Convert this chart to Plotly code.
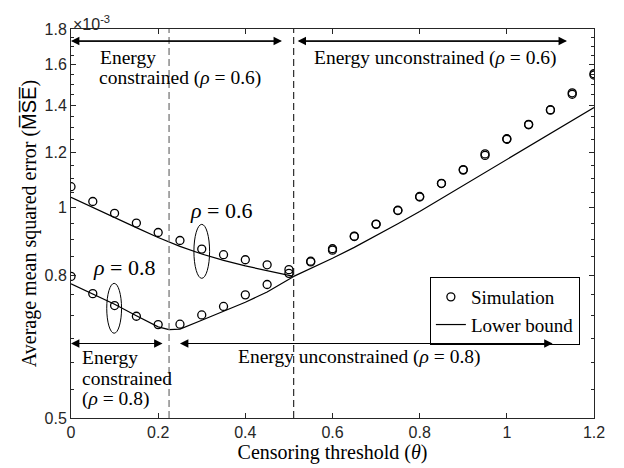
import numpy as np
import plotly.graph_objects as go

# ---------------- data (MSE in units of 1e-3) ----------------
theta_con = [0, 0.05, 0.1, 0.15, 0.2, 0.25, 0.3, 0.35, 0.4, 0.45, 0.5]
sim_rho06_con = [1.071, 1.020, 0.981, 0.950, 0.921, 0.897, 0.872, 0.856, 0.842, 0.828, 0.815]
sim_rho08_con = [0.797, 0.753, 0.724, 0.699, 0.680, 0.681, 0.702, 0.722, 0.750, 0.776, 0.805]

theta_unc = [0.55, 0.6, 0.65, 0.7, 0.75, 0.8, 0.85, 0.9, 0.95, 1.0, 1.05, 1.1, 1.15, 1.2]
sim_rho06_unc = [0.838, 0.873, 0.910, 0.947, 0.991, 1.037, 1.083, 1.133, 1.193, 1.254, 1.315, 1.380, 1.459, 1.554]
sim_rho08_unc = [0.836, 0.869, 0.909, 0.946, 0.990, 1.035, 1.082, 1.131, 1.187, 1.252, 1.313, 1.378, 1.452, 1.547]

theta_lb06 = [0, 0.05, 0.1, 0.15, 0.2, 0.25, 0.3, 0.35, 0.4, 0.45, 0.5, 0.511]
lb_rho06 = [1.034, 1.000, 0.966, 0.936, 0.906, 0.880, 0.858, 0.840, 0.825, 0.812, 0.800, 0.797]

theta_lb08 = [0, 0.05, 0.1, 0.15, 0.2, 0.225, 0.25, 0.3, 0.35, 0.4, 0.45, 0.511]
lb_rho08 = [0.778, 0.752, 0.727, 0.700, 0.675, 0.669, 0.670, 0.690, 0.710, 0.732, 0.757, 0.797]

theta_lbu = [0.511, 0.55, 0.6, 0.65, 0.7, 0.75, 0.8, 0.85, 0.9, 0.95, 1.0, 1.05, 1.1, 1.15, 1.2]
lb_unc = [0.797, 0.818, 0.846, 0.877, 0.911, 0.948, 0.987, 1.030, 1.075, 1.122, 1.172, 1.224, 1.276, 1.332, 1.390]

theta_switch_08 = 0.225
theta_switch_06 = 0.511

xtick_vals = [0, 0.2, 0.4, 0.6, 0.8, 1.0, 1.2]
xtick_text = ["0", "0.2", "0.4", "0.6", "0.8", "1", "1.2"]
ytick_vals = [0.5, 0.8, 1.0, 1.2, 1.4, 1.6, 1.8]
ytick_text = ["0.5", "0.8", "1", "1.2", "1.4", "1.6", "1.8"]
yminor_vals = [round(0.5 + 0.05 * i, 2) for i in range(27)]

SERIF = "Liberation Serif"
SANS = "Liberation Sans"
AX = "#262626"
L = np.log10

fig = go.Figure()

mk = dict(symbol="circle-open", size=8, color="black", line=dict(width=1.3, color="black"))
sims = [(theta_con, sim_rho06_con), (theta_con, sim_rho08_con),
        (theta_unc, sim_rho06_unc), (theta_unc, sim_rho08_unc)]
for i, (tx, ty) in enumerate(sims):
    fig.add_trace(go.Scatter(x=tx, y=ty, mode="markers", marker=mk, name="Simulation",
                             legendgroup="sim", showlegend=(i == 0)))
lbs = [(theta_lb06, lb_rho06), (theta_lb08, lb_rho08), (theta_lbu, lb_unc)]
for i, (tx, ty) in enumerate(lbs):
    fig.add_trace(go.Scatter(x=tx, y=ty, mode="lines", line=dict(color="black", width=1.2),
                             name="Lower bound", legendgroup="lb", showlegend=(i == 0)))

# vertical dashed lines
fig.add_shape(type="line", x0=theta_switch_08, x1=theta_switch_08, y0=0, y1=1, xref="x", yref="paper",
              line=dict(color="#7a7a7a", width=1.3, dash="7px,4px"))
fig.add_shape(type="line", x0=theta_switch_06, x1=theta_switch_06, y0=0, y1=1, xref="x", yref="paper",
              line=dict(color="black", width=1, dash="7px,4px"))

# ellipses
fig.add_shape(type="circle", x0=0.282, x1=0.318, y0=0.792, y1=0.946, xref="x", yref="y",
              line=dict(color="black", width=1))
fig.add_shape(type="circle", x0=0.082, x1=0.116, y0=0.661, y1=0.779, xref="x", yref="y",
              line=dict(color="black", width=1))

anns = []
def darrow(xa, xb, yv):
    for (h, t) in [(xa, xb), (xb, xa)]:
        anns.append(dict(x=h, y=L(yv), ax=t, ay=L(yv), xref="x", yref="y", axref="x", ayref="y",
                         text="", showarrow=True, arrowhead=2, arrowsize=1.4, arrowwidth=1.2,
                         arrowcolor="black", standoff=0, startstandoff=0))

darrow(0.0, 0.484, 1.73)
darrow(0.52, 1.138, 1.73)
darrow(0.0, 0.21, 0.639)
darrow(0.25, 1.105, 0.639)

def txt(x, yv, s, size=19.5):
    anns.append(dict(x=x, y=L(yv), xref="x", yref="y", xanchor="left", yanchor="middle",
                     showarrow=False, font=dict(family=SERIF, size=size, color="black"), text=s))

txt(0.062, 1.638, "Energy")
txt(0.060, 1.533, "constrained (<i>ρ</i> = 0.6)")
txt(0.554, 1.638, "Energy unconstrained (<i>ρ</i> = 0.6)")
txt(0.020, 0.611, "Energy")
txt(0.020, 0.569, "constrained")
txt(0.020, 0.532, "(<i>ρ</i> = 0.8)")
txt(0.378, 0.611, "Energy unconstrained (<i>ρ</i> = 0.8)")

anns.append(dict(x=0.344, y=L(0.990), xref="x", yref="y", showarrow=False,
                 font=dict(family=SERIF, size=22, color="black"), text="<i>ρ</i> = 0.6"))
anns.append(dict(x=0.122, y=L(0.822), xref="x", yref="y", showarrow=False,
                 font=dict(family=SERIF, size=22, color="black"), text="<i>ρ</i> = 0.8"))
anns.append(dict(x=0, y=1, xref="paper", yref="paper", xanchor="left", yanchor="bottom",
                 showarrow=False, font=dict(family=SANS, size=16, color=AX),
                 text="×10<sup>-3</sup>", yshift=-6))

fig.update_layout(
    width=624, height=468,
    margin=dict(l=71, r=30, t=29, b=50),
    paper_bgcolor="white", plot_bgcolor="white",
    annotations=anns,
    showlegend=True,
    legend=dict(x=0.973, y=0.3625, xanchor="right", yanchor="top",
                bordercolor="black", borderwidth=1, bgcolor="white",
                font=dict(family=SERIF, size=19, color="black"),
                tracegroupgap=0, itemwidth=30),
    xaxis=dict(range=[0, 1.2], tickvals=xtick_vals, ticktext=xtick_text,
               ticks="inside", ticklen=5, tickcolor=AX, showline=True, linecolor=AX, linewidth=1,
               mirror="ticks", showgrid=False, zeroline=False,
               tickfont=dict(family=SANS, size=16, color=AX),
               title=dict(text="Censoring threshold (<i>θ</i>)", standoff=2,
                          font=dict(family=SERIF, size=20, color="black"))),
    yaxis=dict(type="log", range=[L(0.5), L(1.8)], tickvals=ytick_vals, ticktext=ytick_text,
               ticks="inside", ticklen=5, tickcolor=AX, showline=True, linecolor=AX, linewidth=1,
               mirror="ticks", showgrid=False, zeroline=False,
               minor=dict(tickmode="array", tickvals=yminor_vals, ticks="inside", ticklen=3,
                          tickcolor=AX, showgrid=False),
               tickfont=dict(family=SANS, size=16, color=AX),
               title=dict(text="Average mean squared error (<span style=\"font-family:Liberation Sans\">M\u0305S\u0305E\u0305</span>)",
                          standoff=2, font=dict(family=SERIF, size=20, color="black"))),
)

fig.write_html("out.html")
